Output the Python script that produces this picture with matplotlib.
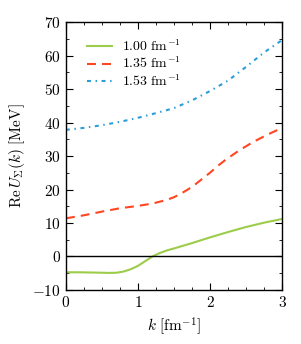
import matplotlib
matplotlib.use("Agg")
import matplotlib.pyplot as plt
from matplotlib.ticker import MultipleLocator

plt.rcParams['font.family'] = 'serif'
plt.rcParams['font.serif'] = ['cmr10', 'DejaVu Serif']
plt.rcParams['mathtext.fontset'] = 'cm'
plt.rcParams['axes.formatter.use_mathtext'] = True
plt.rcParams['axes.unicode_minus'] = True

k1 = [0.0, 0.2, 0.4, 0.6, 0.7, 0.8, 0.9, 1.0, 1.1, 1.2, 1.3, 1.4, 1.5, 1.75, 2.0, 2.25, 2.5, 2.75, 3.0]
u1 = [-4.7, -4.72, -4.8, -4.9, -4.85, -4.5, -3.8, -2.8, -1.4, 0.0, 1.0, 1.8, 2.4, 4.0, 5.7, 7.3, 8.8, 10.1, 11.2]

k2 = [0.0, 0.25, 0.5, 0.75, 1.0, 1.2, 1.4, 1.5, 1.6, 1.7, 1.8, 1.9, 2.0, 2.1, 2.2, 2.4, 2.6, 2.8, 3.0]
u2 = [11.4, 12.3, 13.4, 14.4, 15.1, 15.8, 16.9, 17.7, 18.8, 20.1, 21.6, 23.3, 25.0, 26.9, 28.6, 31.6, 34.2, 36.4, 38.4]

k3 = [0.0, 0.25, 0.5, 0.75, 1.0, 1.25, 1.5, 1.75, 2.0, 2.25, 2.5, 2.75, 3.0]
u3 = [37.8, 38.4, 39.2, 40.2, 41.4, 42.8, 44.3, 46.6, 49.4, 52.5, 56.6, 60.9, 64.6]

labels = [r'$1.00\ \mathrm{fm}^{-1}$', r'$1.35\ \mathrm{fm}^{-1}$', r'$1.53\ \mathrm{fm}^{-1}$']
colors = ['#9ccc4a', '#ff4521', '#2a9ed8']

fig = plt.figure(figsize=(3.01, 3.44), dpi=100)
ax = fig.add_axes([0.219, 0.157, 0.718, 0.779])

ax.plot(k1, u1, color=colors[0], lw=1.5, label=labels[0])
ax.plot(k2, u2, color=colors[1], lw=1.5, dashes=(4.3, 2.9), label=labels[1])
ax.plot(k3, u3, color=colors[2], lw=1.5, dashes=(1.9, 2.2, 0.7, 2.2), label=labels[2])

ax.axhline(0, color='black', lw=1.0)

ax.set_xlim(0, 3)
ax.set_ylim(-10, 70)
ax.xaxis.set_major_locator(MultipleLocator(1))
ax.xaxis.set_minor_locator(MultipleLocator(0.25))
ax.yaxis.set_major_locator(MultipleLocator(10))
ax.yaxis.set_minor_locator(MultipleLocator(5))
ax.tick_params(which='both', direction='in', top=True, right=True, labelsize=11)
ax.tick_params(which='major', length=5)
ax.tick_params(which='minor', length=2.5)
for s in ax.spines.values():
    s.set_linewidth(1.0)

ax.set_xlabel(r'$k\ [\mathrm{fm}^{-1}]$', fontsize=11)
ax.set_ylabel(r'$\mathrm{Re}\,U_{\Sigma}(k)\ [\mathrm{MeV}]$', fontsize=11)

ax.legend(loc='upper left', frameon=False, fontsize=10, handlelength=1.8,
          handletextpad=0.7, labelspacing=0.12, bbox_to_anchor=(0.04, 0.985))

fig.savefig('out.png', dpi=100)
